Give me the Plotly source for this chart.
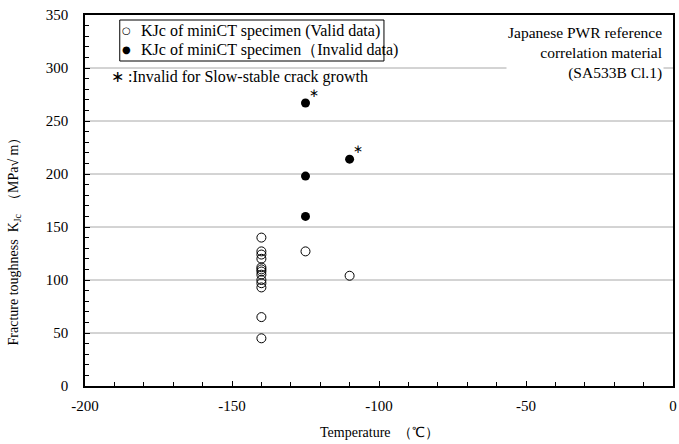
import plotly.graph_objects as go

# Data
valid_temp = [-140]*13 + [-125, -110]
valid_kjc = [140, 127, 124, 120, 112, 110, 108, 105, 100, 97, 93, 65, 45, 127, 104]
invalid_temp = [-125, -125, -125, -110]
invalid_kjc = [267, 198, 160, 214]
ssg_temp = [-125, -110]   # invalid for slow-stable crack growth
ssg_kjc = [267, 214]
x_ticks = [-200, -150, -100, -50, 0]
y_ticks = [0, 50, 100, 150, 200, 250, 300, 350]
legend_labels = ["KJc of miniCT specimen (Valid data)",
                 "KJc of miniCT specimen\uff08Invalid data)"]

FONT = "Liberation Serif, Times New Roman, serif"
W, H = 679, 444
ML, MR, MT, MB = 85, 2, 15, 58
PW, PH = W - ML - MR, H - MT - MB

def px(x):  # pixel x -> paper
    return (x - ML) / PW

def py(y):  # pixel y -> paper
    return (H - MB - y) / PH

fig = go.Figure()
fig.add_trace(go.Scatter(x=valid_temp, y=valid_kjc, mode="markers",
                         name=legend_labels[0],
                         marker=dict(symbol="circle-open", size=9, color="black",
                                     line=dict(width=1, color="black"))))
fig.add_trace(go.Scatter(x=invalid_temp, y=invalid_kjc, mode="markers",
                         name=legend_labels[1],
                         marker=dict(symbol="circle", size=9, color="black")))

for t, k in zip(ssg_temp, ssg_kjc):
    fig.add_annotation(x=t, y=k, text="\u2217", showarrow=False, xshift=8, yshift=10,
                       font=dict(family=FONT, size=12, color="#000000"))

# custom legend box
fig.add_shape(type="rect", xref="paper", yref="paper", x0=px(120), x1=px(386),
              y0=py(61), y1=py(20), line=dict(color="black", width=1), fillcolor="white")
for i, (sym, lab) in enumerate(zip(["\u25cb", "\u25cf"], legend_labels)):
    yc = py(31 + i * 19)
    fig.add_annotation(xref="paper", yref="paper", x=px(127), y=yc, text=sym,
                       showarrow=False, xanchor="center", yanchor="middle",
                       font=dict(family="DejaVu Sans", size=10, color="black"))
    fig.add_annotation(xref="paper", yref="paper", x=px(139), y=yc, text=lab,
                       showarrow=False, xanchor="left", yanchor="middle",
                       font=dict(family=FONT, size=16, color="black"))

fig.add_annotation(xref="paper", yref="paper", x=px(109), y=py(77), xanchor="left", yanchor="middle",
                   text="\u2217 :Invalid for Slow-stable crack growth", showarrow=False,
                   font=dict(family=FONT, size=16, color="black"))

fig.add_annotation(xref="paper", yref="paper", x=px(668), y=py(22), xanchor="right", yanchor="top",
                   align="right", showarrow=False, bgcolor="white",
                   text="Japanese PWR reference<br>correlation material<br>(SA533B Cl.1)",
                   font=dict(family=FONT, size=15.5, color="black"))

# axis titles
fig.add_annotation(xref="paper", yref="paper", x=px(15), y=py(238), textangle=-90,
                   xanchor="center", yanchor="middle", showarrow=False,
                   text="Fracture toughness  K<sub>Jc</sub>  \uff08MPa\u221a m\uff09",
                   font=dict(family=FONT, size=14, color="black"))
fig.add_annotation(xref="paper", yref="paper", x=px(381), y=py(433),
                   xanchor="center", yanchor="middle", showarrow=False,
                   text="Temperature  \uff08\u2103\uff09",
                   font=dict(family=FONT, size=14, color="black"))

fig.update_layout(
    width=W, height=H,
    margin=dict(l=ML, r=MR, t=MT, b=MB),
    paper_bgcolor="white", plot_bgcolor="white",
    font=dict(family=FONT, size=15, color="black"),
    showlegend=False,
    xaxis=dict(range=[-200, 0], tickvals=x_ticks, ticktext=[str(v) for v in x_ticks],
               showgrid=False, zeroline=False,
               showline=True, linecolor="black", linewidth=1.5, mirror=True,
               ticks="inside", ticklen=5, tickcolor="black", tickwidth=1,
               ticklabelstandoff=5,
               minor=dict(dtick=10, ticks="inside", ticklen=4, tickcolor="black", showgrid=False)),
    yaxis=dict(range=[0, 350], tickvals=y_ticks, ticktext=[str(v) for v in y_ticks],
               showgrid=False, zeroline=False,
               showline=True, linecolor="black", linewidth=1.5, mirror=True,
               ticks="inside", ticklen=5, tickcolor="black", tickwidth=1,
               ticklabelstandoff=12,
               minor=dict(dtick=10, ticks="inside", ticklen=4, tickcolor="black", showgrid=False)),
)

for g in [50, 100, 150, 200, 250, 300]:
    fig.add_shape(type="line", xref="paper", yref="y", x0=0, x1=1, y0=g, y1=g,
                  line=dict(color="#A8A8A8", width=1), layer="below")

fig.write_html("out.html")
